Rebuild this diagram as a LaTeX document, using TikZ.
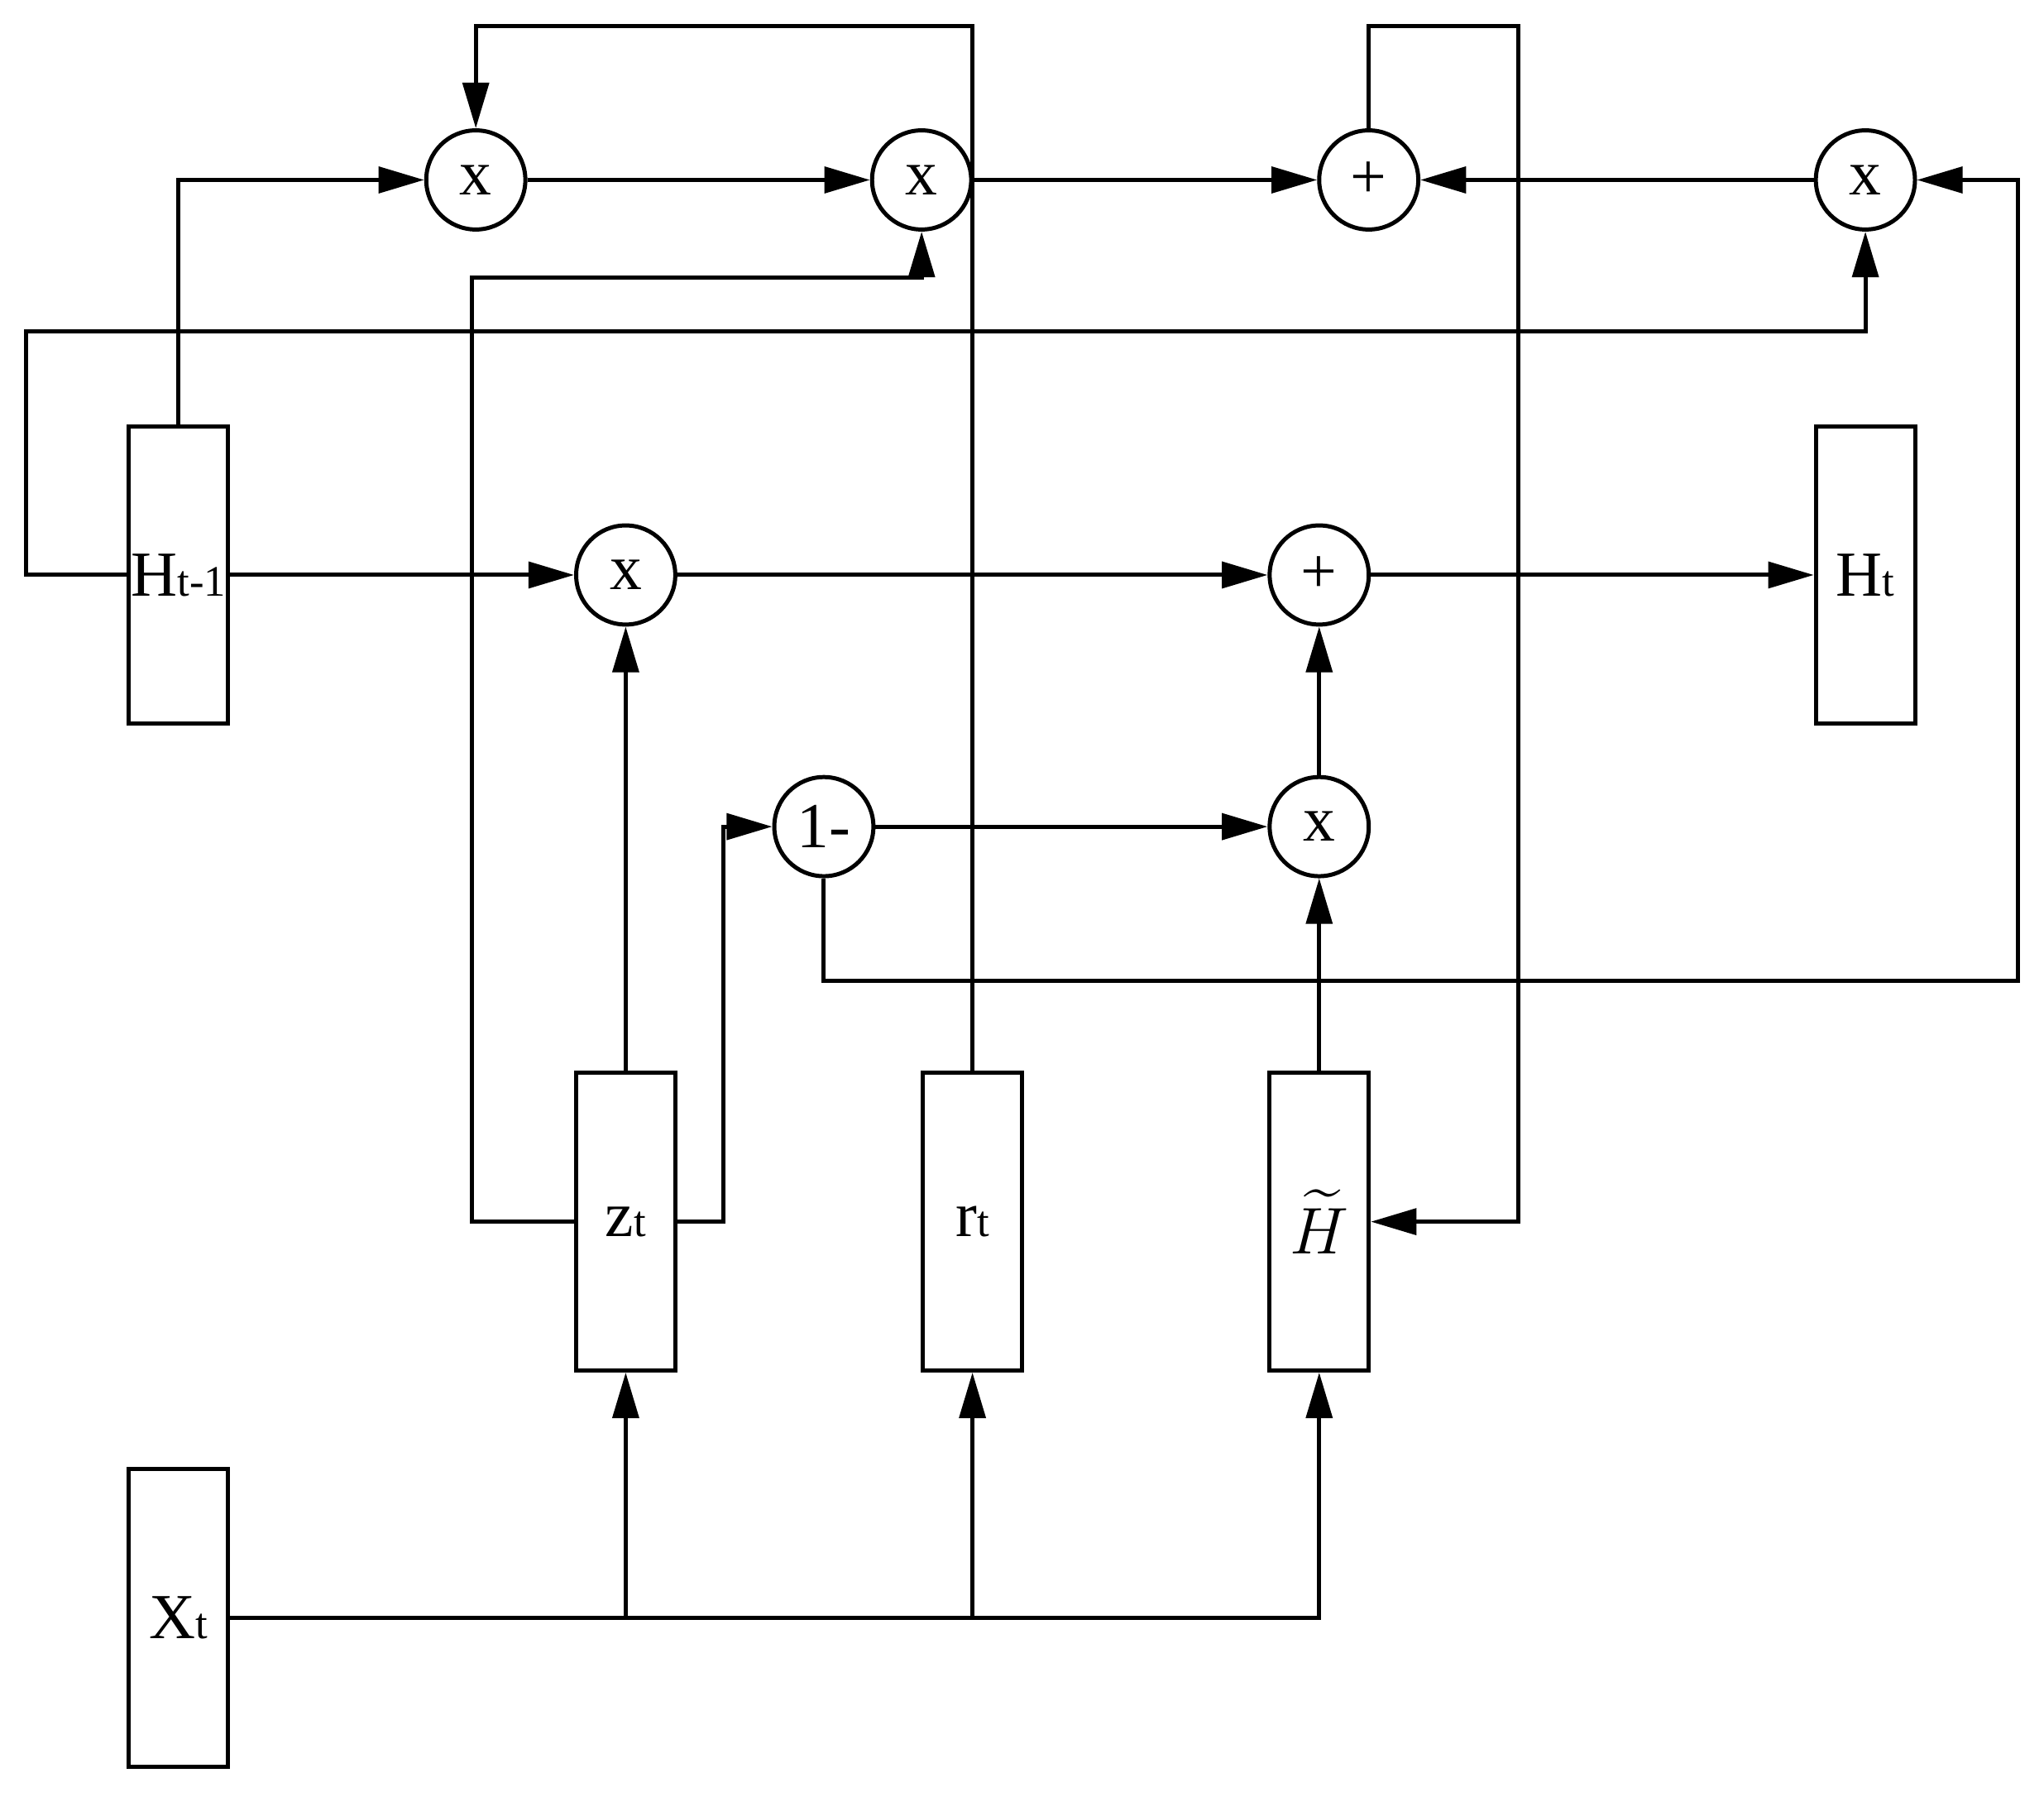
\documentclass[tikz,border=0pt]{standalone}
\usepackage{fontspec}
\setmainfont{Liberation Serif}
\usepackage{amsmath}
\usetikzlibrary{arrows.meta}
\newcommand{\gatelbl}[2]{#1{\fontsize{9.5}{11}\selectfont #2}}

\begin{document}
\begin{tikzpicture}[
        x=0.01cm, y=-0.01cm,
        box/.style={draw, line width=0.9pt, minimum width=0.76cm, minimum height=2.28cm, inner sep=0pt, font=\fontsize{14}{16}\selectfont},
        op/.style={draw, circle, line width=0.9pt, minimum size=0.76cm, inner sep=0pt, font=\fontsize{14}{16}\selectfont},
        arrow/.style={-{Triangle[length=0.35cm, width=0.2cm]}, line width=0.9pt}
    ]
        \useasboundingbox (0,0) rectangle (1568,1378);

        % 状态与输入
        \node[box] (hprev) at (137, 441) {\gatelbl{H}{t-1}};
        \node[box] (hout) at (1431, 441) {\gatelbl{H}{t}};
        \node[box] (xin) at (137, 1241) {\gatelbl{X}{t}};

        % 门
        \node[box] (zgate) at (480, 937) {\gatelbl{z}{t}};
        \node[box] (rgate) at (746, 937) {\gatelbl{r}{t}};
        \node[box, font=\fontsize{15}{17}\selectfont] (hcand) at (1012, 937) {$\widetilde{H}$};

        % 上排运算
        \node[op] (mulr) at (365, 138) {x};
        \node[op] (mulz) at (707, 138) {x};
        \node[op] (addtop) at (1050, 138) {+};
        \node[op] (mulx) at (1431, 138) {x};

        % 中间运算
        \node[op] (mulzh) at (480, 441) {x};
        \node[op] (addh) at (1012, 441) {+};
        \node[op] (inv) at (632, 634) {1-};
        \node[op] (mulc) at (1012, 634) {x};

        % 输入分支
        \draw[arrow] (xin.east) -| (hcand.south);
        \draw[arrow] (xin.east -| zgate.south) -- (zgate.south);
        \draw[arrow] (xin.east -| rgate.south) -- (rgate.south);

        % z_t
        \draw[arrow] (zgate.north) -- (mulzh.south);
        \draw[arrow] (zgate.east) -- (555, 937) |- (inv.west);
        \draw[arrow] (zgate.west) -- (362, 937) -- (362, 213) -| (mulz.south);

        % r_t
        \draw[arrow] (rgate.north) -- (746, 20) -| (mulr.north);

        % H_{t-1}
        \draw[arrow] (hprev.north) |- (mulr.west);
        \draw[arrow] (hprev.west) -- (20, 441) -- (20, 254) -| (mulx.south);
        \draw[arrow] (hprev.east) -- (mulzh.west);

        % 中间连接
        \draw[arrow] (mulzh) -- (addh);
        \draw[arrow] (addh) -- (hout);
        \draw[arrow] (inv) -- (mulc);
        \draw[arrow] (inv.south) |- (1548, 752) |- (mulx.east);
        \draw[arrow] (hcand) -- (mulc);
        \draw[arrow] (mulc) -- (addh);

        % 上排连接
        \draw[arrow] (mulr) -- (mulz);
        \draw[arrow] (mulz) -- (addtop);
        \draw[arrow] (mulx) -- (addtop);
        \draw[arrow] (addtop.north) |- (1165, 20) |- (hcand.east);
    \end{tikzpicture}
\end{document}
